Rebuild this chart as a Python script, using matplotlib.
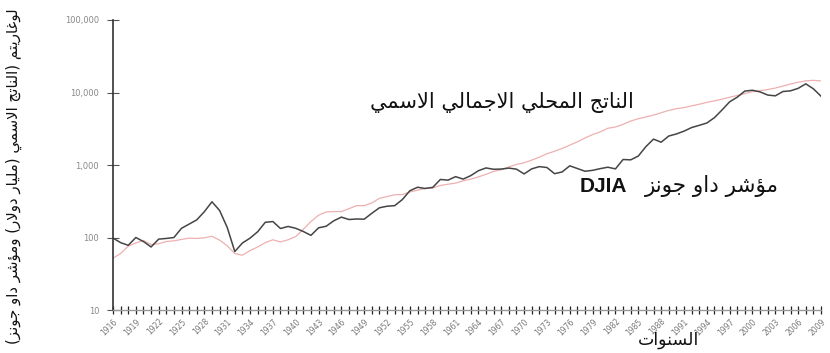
import matplotlib
matplotlib.use("Agg")
import matplotlib.pyplot as plt
from matplotlib.ticker import FixedLocator, NullLocator

# Years and series (GDP in billions of dollars, DJIA yearly average)
years = list(range(1916, 2010))

gdp = [52, 60, 76, 84, 91, 80, 82, 88, 90, 94, 98, 97, 99, 104, 92, 77, 60, 57,
       66, 74, 85, 93, 87, 93, 103, 130, 166, 203, 225, 228, 228, 250, 275, 275,
       300, 347, 367, 389, 391, 425, 449, 474, 481, 522, 543, 563, 605, 638, 686,
       744, 815, 862, 943, 1019, 1075, 1168, 1282, 1429, 1549, 1689, 1878, 2086,
       2357, 2632, 2862, 3211, 3345, 3638, 4041, 4347, 4590, 4870, 5253, 5658,
       5980, 6174, 6539, 6879, 7309, 7664, 8100, 8609, 9089, 9661, 10285, 10622,
       10978, 11511, 12275, 13094, 13856, 14478, 14719, 14419]

djia = [98, 85, 78, 100, 88, 74, 95, 97, 100, 134, 153, 175, 227, 311, 236, 138,
        64, 84, 98, 120, 162, 166, 133, 142, 134, 121, 107, 136, 143, 170, 191,
        177, 180, 179, 216, 257, 270, 275, 333, 442, 493, 475, 491, 632, 618, 691,
        639, 714, 834, 911, 873, 879, 906, 876, 753, 884, 950, 923, 759, 802, 975,
        894, 820, 844, 891, 932, 884, 1190, 1178, 1328, 1793, 2276, 2061, 2509,
        2679, 2929, 3285, 3522, 3794, 4494, 5743, 7441, 8626, 10465, 10735, 10189,
        9226, 8994, 10317, 10548, 11409, 13170, 11253, 8885]

y_ticks = [10, 100, 1000, 10000, 100000]
y_tick_labels = ["10", "100", "1,000", "10,000", "100,000"]
x_label_years = list(range(1916, 2010, 3))

gdp_label = "الناتج المحلي الاجمالي الاسمي"
djia_label_ar = "مؤشر داو جونز"
djia_label_en = "DJIA"
y_title = "لوغاريتم (الناتج الاسمي (مليار دولار) ومؤشر داو جونز)"
x_title = "السنوات"

# Minimal Arabic shaping (matplotlib has no complex text layout)
FORMS = {
    'ء': (0xFE80, None, None, None),
    'آ': (0xFE81, 0xFE82, None, None), 'أ': (0xFE83, 0xFE84, None, None),
    'ؤ': (0xFE85, 0xFE86, None, None), 'إ': (0xFE87, 0xFE88, None, None),
    'ئ': (0xFE89, 0xFE8A, 0xFE8B, 0xFE8C), 'ا': (0xFE8D, 0xFE8E, None, None),
    'ب': (0xFE8F, 0xFE90, 0xFE91, 0xFE92), 'ة': (0xFE93, 0xFE94, None, None),
    'ت': (0xFE95, 0xFE96, 0xFE97, 0xFE98), 'ث': (0xFE99, 0xFE9A, 0xFE9B, 0xFE9C),
    'ج': (0xFE9D, 0xFE9E, 0xFE9F, 0xFEA0), 'ح': (0xFEA1, 0xFEA2, 0xFEA3, 0xFEA4),
    'خ': (0xFEA5, 0xFEA6, 0xFEA7, 0xFEA8), 'د': (0xFEA9, 0xFEAA, None, None),
    'ذ': (0xFEAB, 0xFEAC, None, None), 'ر': (0xFEAD, 0xFEAE, None, None),
    'ز': (0xFEAF, 0xFEB0, None, None), 'س': (0xFEB1, 0xFEB2, 0xFEB3, 0xFEB4),
    'ش': (0xFEB5, 0xFEB6, 0xFEB7, 0xFEB8), 'ص': (0xFEB9, 0xFEBA, 0xFEBB, 0xFEBC),
    'ض': (0xFEBD, 0xFEBE, 0xFEBF, 0xFEC0), 'ط': (0xFEC1, 0xFEC2, 0xFEC3, 0xFEC4),
    'ظ': (0xFEC5, 0xFEC6, 0xFEC7, 0xFEC8), 'ع': (0xFEC9, 0xFECA, 0xFECB, 0xFECC),
    'غ': (0xFECD, 0xFECE, 0xFECF, 0xFED0), 'ف': (0xFED1, 0xFED2, 0xFED3, 0xFED4),
    'ق': (0xFED5, 0xFED6, 0xFED7, 0xFED8), 'ك': (0xFED9, 0xFEDA, 0xFEDB, 0xFEDC),
    'ل': (0xFEDD, 0xFEDE, 0xFEDF, 0xFEE0), 'م': (0xFEE1, 0xFEE2, 0xFEE3, 0xFEE4),
    'ن': (0xFEE5, 0xFEE6, 0xFEE7, 0xFEE8), 'ه': (0xFEE9, 0xFEEA, 0xFEEB, 0xFEEC),
    'و': (0xFEED, 0xFEEE, None, None), 'ى': (0xFEEF, 0xFEF0, None, None),
    'ي': (0xFEF1, 0xFEF2, 0xFEF3, 0xFEF4),
}
LAM_ALEF = {'ا': (0xFEFB, 0xFEFC), 'أ': (0xFEF7, 0xFEF8),
            'إ': (0xFEF9, 0xFEFA), 'آ': (0xFEF5, 0xFEF6)}


def shape(text):
    # merge lam-alef first
    units = []
    i = 0
    while i < len(text):
        c = text[i]
        if c == 'ل' and i + 1 < len(text) and text[i + 1] in LAM_ALEF:
            units.append(('LA', text[i + 1]))
            i += 2
        else:
            units.append(('C', c))
            i += 1

    def joins_next(u):
        if u is None or u[0] == 'LA':
            return False
        f = FORMS.get(u[1])
        return f is not None and f[2] is not None

    def is_joining(u):
        if u is None:
            return False
        if u[0] == 'LA':
            return True
        f = FORMS.get(u[1])
        return f is not None and f[1] is not None

    out = []
    for k, u in enumerate(units):
        prev = units[k - 1] if k > 0 else None
        nxt = units[k + 1] if k + 1 < len(units) else None
        link_prev = joins_next(prev) and is_joining(u)
        if u[0] == 'LA':
            iso, fin = LAM_ALEF[u[1]]
            out.append(chr(fin if link_prev else iso))
            continue
        f = FORMS.get(u[1])
        if f is None:
            out.append(u[1])
            continue
        link_next = f[2] is not None and is_joining(nxt)
        if link_prev and link_next:
            out.append(chr(f[3]))
        elif link_prev:
            out.append(chr(f[1]))
        elif link_next:
            out.append(chr(f[2]))
        else:
            out.append(chr(f[0]))
    return ''.join(out)


def rtl(text):
    vis = shape(text)[::-1]
    return vis.translate(str.maketrans("()", ")("))


fig = plt.figure(figsize=(8.3, 3.53), dpi=100)
ax = fig.add_axes([113 / 830, 1 - 310 / 353, 708 / 830, 290 / 353])

ax.plot(years, gdp, color='#eeb0b0', lw=0.9)
ax.plot(years, djia, color='#454545', lw=1.1)

ax.set_yscale('log')
ax.set_ylim(10, 100000)
ax.set_xlim(1916, 2009)

ax.yaxis.set_major_locator(FixedLocator(y_ticks))
ax.yaxis.set_minor_locator(NullLocator())
ax.set_yticklabels(y_tick_labels)

ax.set_xticks(x_label_years)
ax.set_xticks(years, minor=True)
ax.set_xticklabels([str(y) for y in x_label_years], rotation=45, ha='right',
                   rotation_mode='anchor')

for s in ['top', 'right']:
    ax.spines[s].set_visible(False)
ax.spines['left'].set_color('#333333')
ax.spines['left'].set_linewidth(1.2)
ax.spines['bottom'].set_color('#999999')
ax.spines['bottom'].set_linewidth(1.0)

ax.tick_params(axis='y', direction='inout', length=8, width=0.8, color='#555555',
               labelsize=6, labelcolor='#888888', pad=6)
ax.tick_params(axis='x', which='both', direction='inout', length=6, width=0.9,
               color='#222222', labelsize=5.5, labelcolor='#777777', pad=2)

arabic_font = ['DejaVu Sans']
fig.text(502 / 830, 1 - 103 / 353, rtl(gdp_label), ha='center', va='center',
         fontsize=15, family=arabic_font, color='#111111')
fig.text(603 / 830, 1 - 186 / 353, djia_label_en, ha='center', va='center',
         fontsize=15, fontweight='bold', family=['Liberation Sans'], color='#111111')
fig.text(712 / 830, 1 - 186 / 353, rtl(djia_label_ar), ha='center', va='center',
         fontsize=15.5, family=arabic_font, color='#111111')
fig.text(14 / 830, 0.5, rtl(y_title), rotation=90, ha='center', va='center',
         fontsize=10.8, family=arabic_font, color='#111111')
fig.text(668 / 830, 1 - 340 / 353, rtl(x_title), ha='center', va='center',
         fontsize=12.5, family=arabic_font, color='#111111')

fig.savefig('out.png', dpi=100)
